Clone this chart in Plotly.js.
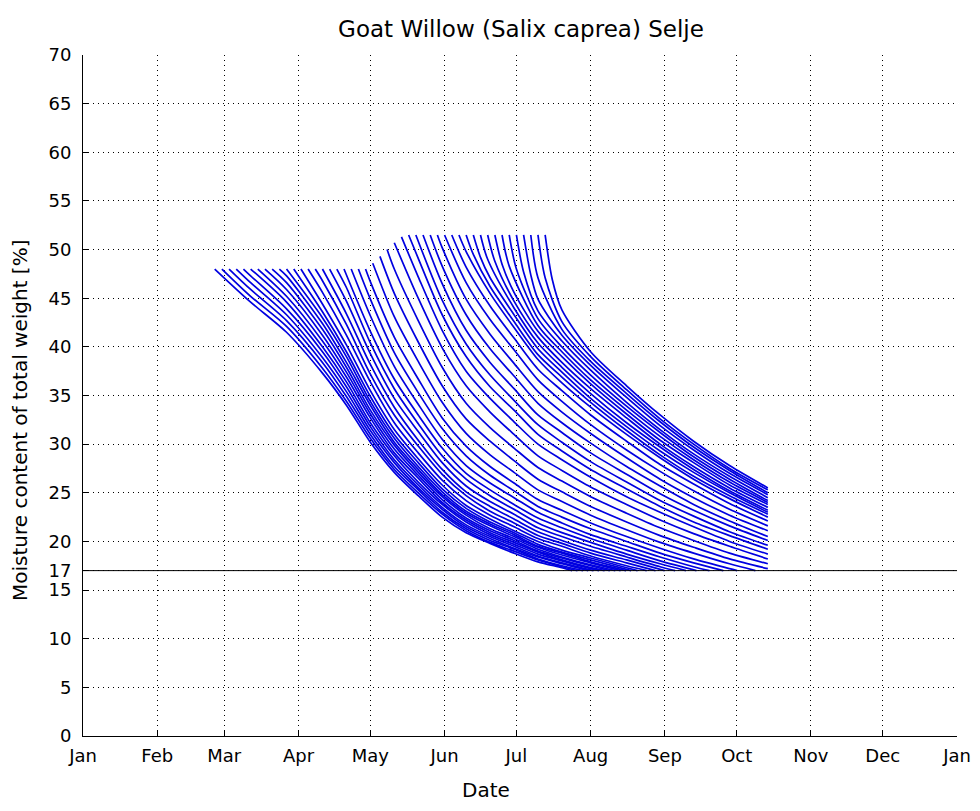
<!DOCTYPE html>
<html><head><meta charset="utf-8">
<script src="https://cdn.plot.ly/plotly-3.0.1.min.js"></script>
<style>html,body{margin:0;padding:0;background:#fff;} #chart{width:980px;height:811px;}</style>
</head><body><div id="chart"></div>
<script>
const _ = null;
// x axis: day of year (Jan 1 = 0)
const monthTickDays = [0,31,59,90,120,151,181,212,243,273,304,334,365];
const monthTickLabels = ['Jan','Feb','Mar','Apr','May','Jun','Jul','Aug','Sep','Oct','Nov','Dec','Jan'];
const yTickVals = [0,5,10,15,17,20,25,30,35,40,45,50,55,60,65,70];
const limitMoisture = 17;

// felling day of each drying curve and its starting moisture [%]
const fellingDay = [55,58,61,64,67,70,73,76,79,82,85,88,91,94,97,100,103,106,109,112,115,118,
  121,124,127,130,133,136,139,142,145,148,151,154,157,160,163,166,169,172,175,178,181,184,187,190,193];
const initialMoisture = [48,48,48,48,48,48,48,48,48,48,48,48,48,48,48,48,48,48,48,48,48,48,
  48.6,49.3,50.0,50.7,51.3,51.5,51.5,51.5,51.5,51.5,51.5,51.5,51.5,51.5,51.5,51.5,51.5,51.5,51.5,51.5,51.5,51.5,51.5,51.5,51.5];

// quick early drop of summer-felled wood (a few days after felling)
const earlyDay = [_,_,_,_,_,_,_,_,_,_,_,_,_,_,_,_,_,_,_,_,_,_,_,_,_,_,_,_,_,_,_,_,_,_,_,
  163,166,169,172,175,178,181,184,187,_,193,196];
const earlyMoisture = [_,_,_,_,_,_,_,_,_,_,_,_,_,_,_,_,_,_,_,_,_,_,_,_,_,_,_,_,_,_,_,_,_,_,_,
  49.5,49.2,49.0,48.8,48.5,48.3,48.0,47.7,47.4,_,47.1,46.9];

// moisture read at these days for each curve (null = curve not present there)
const gridDay = [70,85,100,110,120,130,140,150,160,170,180,190,200,212,227,241,255,270];
const moistureAtGridDay = [
 [44.6,41.5,37.3,34.0,30.2,27.1,24.7,22.5,20.9,19.8,18.8,17.9,17.3,_,_,_,_,_],
 [45.2,42.1,37.8,34.4,30.6,27.4,25.0,22.8,21.1,19.9,19.0,18.1,17.4,_,_,_,_,_],
 [45.9,42.7,38.4,34.9,31.0,27.7,25.3,23.0,21.3,20.1,19.2,18.2,17.5,_,_,_,_,_],
 [46.6,43.3,38.9,35.4,31.4,28.1,25.5,23.3,21.5,20.3,19.3,18.4,17.7,_,_,_,_,_],
 [47.3,43.9,39.5,35.9,31.8,28.4,25.8,23.5,21.7,20.5,19.5,18.5,17.8,_,_,_,_,_],
 [_,44.6,40.0,36.4,32.2,28.8,26.1,23.8,22.0,20.7,19.7,18.7,18.0,17.2,_,_,_,_],
 [_,45.2,40.6,36.9,32.7,29.1,26.5,24.0,22.2,20.9,19.9,18.9,18.1,17.3,_,_,_,_],
 [_,45.9,41.2,37.4,33.1,29.5,26.8,24.3,22.4,21.1,20.1,19.0,18.3,17.5,_,_,_,_],
 [_,46.6,41.8,37.9,33.5,29.9,27.1,24.6,22.7,21.3,20.3,19.2,18.4,17.6,_,_,_,_],
 [_,47.3,42.4,38.4,34.0,30.2,27.4,24.8,22.9,21.6,20.5,19.4,18.6,17.8,_,_,_,_],
 [_,_,43.0,39.0,34.4,30.6,27.7,25.1,23.1,21.8,20.7,19.5,18.8,17.9,_,_,_,_],
 [_,_,43.6,39.5,34.9,31.0,28.1,25.4,23.4,22.0,20.9,19.7,18.9,18.1,_,_,_,_],
 [_,_,44.4,40.2,35.5,31.5,28.5,25.8,23.7,22.3,21.1,20.0,19.1,18.3,17.3,_,_,_],
 [_,_,45.6,41.2,36.4,32.2,29.1,26.3,24.2,22.7,21.5,20.3,19.5,18.5,17.5,_,_,_],
 [_,_,46.8,42.3,37.2,33.0,29.8,26.9,24.7,23.1,21.9,20.6,19.8,18.8,17.8,_,_,_],
 [_,_,_,43.4,38.2,33.8,30.4,27.4,25.1,23.6,22.3,21.0,20.1,19.1,18.1,_,_,_],
 [_,_,_,44.7,39.3,34.7,31.3,28.1,25.7,24.1,22.8,21.4,20.5,19.5,18.4,17.4,_,_],
 [_,_,_,46.1,40.4,35.7,32.1,28.8,26.4,24.7,23.3,21.9,20.9,19.9,18.7,17.7,_,_],
 [_,_,_,_,41.6,36.7,33.0,29.6,27.0,25.3,23.8,22.4,21.4,20.3,19.1,18.0,_,_],
 [_,_,_,_,43.2,38.0,34.1,30.5,27.8,26.0,24.5,23.0,21.9,20.7,19.5,18.4,17.4,_],
 [_,_,_,_,44.9,39.4,35.3,31.6,28.8,26.8,25.2,23.6,22.5,21.3,20.0,18.8,17.8,_],
 [_,_,_,_,46.7,41.0,36.7,32.7,29.8,27.7,26.0,24.3,23.2,21.9,20.5,19.3,18.2,17.2],
 [_,_,_,_,_,43.1,38.5,34.3,31.1,28.9,27.1,25.3,24.1,22.7,21.2,19.9,18.8,17.7],
 [_,_,_,_,_,45.5,40.5,36.0,32.6,30.3,28.3,26.4,25.1,23.6,22.0,20.6,19.4,18.2],
 [_,_,_,_,_,48.0,42.7,37.9,34.2,31.7,29.6,27.6,26.2,24.6,22.9,21.4,20.1,18.8],
 [_,_,_,_,_,_,45.0,39.9,36.0,33.3,31.0,28.8,27.3,25.6,23.8,22.2,20.8,19.5],
 [_,_,_,_,_,_,47.2,41.7,37.5,34.7,32.3,30.0,28.4,26.6,24.6,23.0,21.5,20.0],
 [_,_,_,_,_,_,49.1,43.3,39.0,35.9,33.5,31.0,29.3,27.4,25.4,23.6,22.0,20.6],
 [_,_,_,_,_,_,_,44.8,40.3,37.1,34.5,32.0,30.2,28.2,26.1,24.2,22.6,21.0],
 [_,_,_,_,_,_,_,46.5,41.7,38.4,35.7,33.0,31.2,29.1,26.9,24.9,23.2,21.6],
 [_,_,_,_,_,_,_,48.3,43.3,39.8,37.0,34.2,32.2,30.1,27.7,25.7,23.8,22.1],
 [_,_,_,_,_,_,_,50.2,44.9,41.3,38.3,35.4,33.3,31.1,28.6,26.4,24.5,22.7],
 [_,_,_,_,_,_,_,_,46.6,42.8,39.7,36.6,34.4,32.0,29.4,27.2,25.2,23.3],
 [_,_,_,_,_,_,_,_,48.2,44.2,40.9,37.7,35.5,33.0,30.3,27.9,25.9,23.9],
 [_,_,_,_,_,_,_,_,49.8,45.5,42.0,38.7,36.3,33.8,31.0,28.6,26.4,24.4],
 [_,_,_,_,_,_,_,_,_,46.2,42.6,39.2,36.9,34.3,31.4,28.9,26.7,24.7],
 [_,_,_,_,_,_,_,_,_,47.1,43.3,39.8,37.4,34.7,31.8,29.3,27.1,25.0],
 [_,_,_,_,_,_,_,_,_,_,44.0,40.4,37.9,35.2,32.2,29.7,27.4,25.2],
 [_,_,_,_,_,_,_,_,_,_,44.7,41.0,38.4,35.7,32.7,30.0,27.7,25.5],
 [_,_,_,_,_,_,_,_,_,_,45.6,41.6,39.0,36.2,33.1,30.4,28.1,25.8],
 [_,_,_,_,_,_,_,_,_,_,_,42.2,39.5,36.6,33.5,30.8,28.4,26.1],
 [_,_,_,_,_,_,_,_,_,_,_,42.9,40.0,37.1,33.9,31.2,28.7,26.4],
 [_,_,_,_,_,_,_,_,_,_,_,43.7,40.6,37.6,34.3,31.5,29.0,26.7],
 [_,_,_,_,_,_,_,_,_,_,_,44.9,41.2,38.1,34.8,31.9,29.4,27.0],
 [_,_,_,_,_,_,_,_,_,_,_,47.1,41.8,38.5,35.2,32.3,29.7,27.3],
 [_,_,_,_,_,_,_,_,_,_,_,_,42.6,39.0,35.6,32.6,30.0,27.5],
 [_,_,_,_,_,_,_,_,_,_,_,_,43.8,39.5,36.0,33.0,30.3,27.8]
];
// last point of each curve: where it reaches 17 % or the end of the run
const endDay = [204.3,206.5,208.8,211.0,213.2,215.5,217.8,220.0,222.3,224.5,226.8,228.9,231.6,235.4,239.1,
  242.9,247.3,251.8,256.2,261.6,267.4,273.2,280.8,
  286,286,286,286,286,286,286,286,286,286,286,286,286,286,286,286,286,286,286,286,286,286,286,286];
const endMoisture = [17,17,17,17,17,17,17,17,17,17,17,17,17,17,17,17,17,17,17,17,17,17,17,
  17.2,17.7,18.2,18.7,19.2,19.6,20.1,20.5,21.1,21.6,22.1,22.5,22.8,23.0,23.2,23.5,23.8,24.0,24.2,24.5,24.8,25.0,25.3,25.5];

const curveColor = '#0000e0';
const traces = fellingDay.map((s, i) => {
  const xs = [s], ys = [initialMoisture[i]];
  if (earlyDay[i] !== null) { xs.push(earlyDay[i]); ys.push(earlyMoisture[i]); }
  gridDay.forEach((g, j) => {
    const v = moistureAtGridDay[i][j];
    if (v !== null) { xs.push(g); ys.push(v); }
  });
  xs.push(endDay[i]); ys.push(endMoisture[i]);
  return {x: xs, y: ys, type: 'scatter', mode: 'lines',
    line: {color: curveColor, width: 1.7, shape: 'spline', smoothing: 0.8},
    hoverinfo: 'skip', showlegend: false};
});
traces.push({x: [monthTickDays[0], monthTickDays[monthTickDays.length-1]], y: [limitMoisture, limitMoisture],
  type: 'scatter', mode: 'lines', line: {color: '#000', width: 1}, hoverinfo: 'skip', showlegend: false});

const tickFont = {family: "'DejaVu Sans', sans-serif", size: 18, color: '#000'};
const labelFont = {family: "'DejaVu Sans', sans-serif", size: 20, color: '#000'};
const axisCommon = {
  ticks: 'inside', ticklen: 6, tickwidth: 1, tickcolor: '#000',
  showline: true, linecolor: '#000', linewidth: 1, mirror: false,
  showgrid: true, gridcolor: '#000', gridwidth: 1, griddash: '1px,4px',
  zeroline: false, tickfont: tickFont, fixedrange: true
};
const layout = {
  width: 980, height: 811,
  margin: {l: 83, r: 23, t: 55, b: 75, pad: 0},
  paper_bgcolor: '#fff', plot_bgcolor: '#fff',
  title: {text: 'Goat Willow (Salix caprea) Selje', font: {family: "'DejaVu Sans', sans-serif", size: 23, color: '#000'},
    x: 521/980, xanchor: 'center', xref: 'container', y: 1 - 29/811, yanchor: 'middle', yref: 'container'},
  xaxis: Object.assign({}, axisCommon, {range: [0, 365], tickmode: 'array', tickvals: monthTickDays, ticktext: monthTickLabels,
    ticklabelstandoff: 3}),
  yaxis: Object.assign({}, axisCommon, {range: [0, 70], tickmode: 'array', tickvals: yTickVals, ticktext: yTickVals.map(String),
    ticklabelstandoff: 7}),
  annotations: [
    {text: 'Moisture content of total weight [%]', xref: 'paper', yref: 'paper', x: (20-83)/874, y: (736-421)/681,
     textangle: -90, showarrow: false, xanchor: 'center', yanchor: 'middle', font: labelFont},
    {text: 'Date', xref: 'paper', yref: 'paper', x: (486-83)/874, y: (736-790)/681,
     showarrow: false, xanchor: 'center', yanchor: 'middle', font: labelFont}
  ]
};
Plotly.newPlot('chart', traces, layout, {displayModeBar: false, staticPlot: true});
</script></body></html>
